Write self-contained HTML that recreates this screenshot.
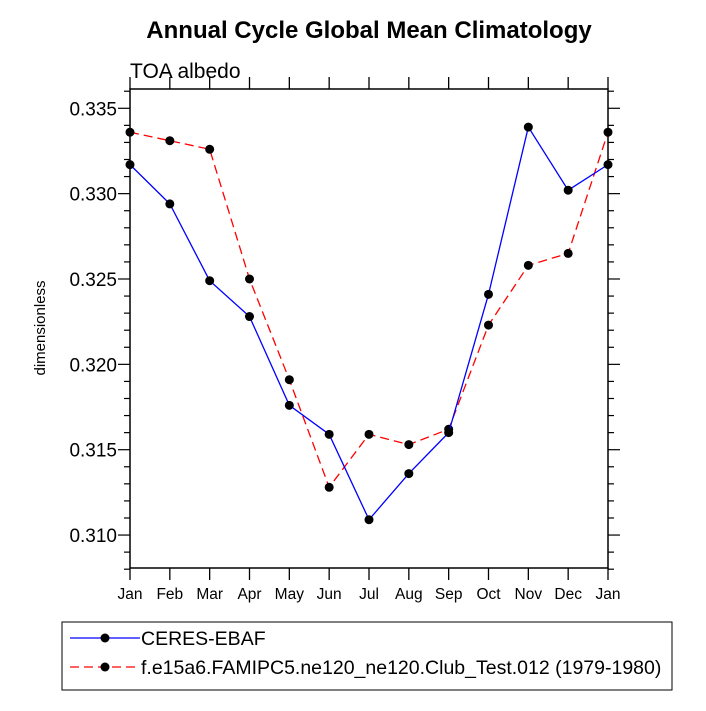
<!DOCTYPE html>
<html><head><meta charset="utf-8"><style>body{margin:0;background:#fff}svg text{font-family:"Liberation Sans",Arial,sans-serif}</style></head>
<body>
<svg id="c" width="706" height="706" xmlns="http://www.w3.org/2000/svg">
<text x="369" y="38" font-size="24" font-weight="bold" text-anchor="middle">Annual Cycle Global Mean Climatology</text>
<text x="130" y="78" font-size="21">TOA albedo</text>
<text transform="translate(45,328) rotate(-90)" font-size="15" text-anchor="middle">dimensionless</text>
<g id="axes"></g><g id="series"></g>
<rect x="62" y="622" width="610" height="68" fill="none" stroke="#000" stroke-width="1"/>
<g>
<line x1="70" y1="638" x2="140" y2="638" stroke="#00f" stroke-width="1.3"/><circle cx="105" cy="638" r="4.5"/>
<text x="141" y="645" font-size="19.5">CERES-EBAF</text></g>
<g>
<line x1="70" y1="667" x2="140" y2="667" stroke="#f00" stroke-width="1.3" stroke-dasharray="9,5"/><circle cx="105" cy="667" r="4.5"/>
<text x="141" y="674" font-size="19.5">f.e15a6.FAMIPC5.ne120_ne120.Club_Test.012 (1979-1980)</text></g>
</svg>
<script>
const months=["Jan","Feb","Mar","Apr","May","Jun","Jul","Aug","Sep","Oct","Nov","Dec","Jan"];
const ceres=[0.3317,0.3294,0.3249,0.3228,0.3176,0.3159,0.3109,0.3136,0.3160,0.3241,0.3339,0.3302,0.3317];
const model=[0.3336,0.3331,0.3326,0.3250,0.3191,0.3128,0.3159,0.3153,0.3162,0.3223,0.3258,0.3265,0.3336];
const yTicks=[0.310,0.315,0.320,0.325,0.330,0.335];
const L=130,R=608,T=89,B=568,ymin=0.30807,ymax=0.33613;
const xs=i=>L+i*(R-L)/(months.length-1);
const ys=v=>B-(v-ymin)/(ymax-ymin)*(B-T);
const NS="http://www.w3.org/2000/svg";
function mk(tag,at,par){const e=document.createElementNS(NS,tag);for(const k in at)e.setAttribute(k,at[k]);par.appendChild(e);return e;}
const ax=document.getElementById('axes'),sg=document.getElementById('series');
const fr=mk('rect',{x:L,y:T,width:R-L,height:B-T,fill:'none',stroke:'#000','stroke-width':1.5},ax);


months.forEach((m,i)=>{const x=xs(i);
mk('line',{x1:x,y1:B,x2:x,y2:B+12,stroke:'#000','stroke-width':1.3},ax);
mk('line',{x1:x,y1:T,x2:x,y2:T-12,stroke:'#000','stroke-width':1.3},ax);
const t=mk('text',{x:x,y:B+31,'font-size':15.5,'text-anchor':'middle'},ax);t.textContent=m;

});
for(let v=0.308;v<=0.3361;v+=0.001){const y=ys(v);const major=yTicks.some(t=>Math.abs(t-v)<1e-6);const len=major?12:6;
mk('line',{x1:L,y1:y,x2:L-len,y2:y,stroke:'#000','stroke-width':1.2},ax);
mk('line',{x1:R,y1:y,x2:R+len,y2:y,stroke:'#000','stroke-width':1.2},ax);}
yTicks.forEach(v=>{const t=mk('text',{x:L-13,y:ys(v)+7,'font-size':19,'text-anchor':'end'},ax);t.textContent=v.toFixed(3);

});
function draw(arr,col,dash,name){const g=mk('g',{},sg);


mk('polyline',{points:arr.map((v,i)=>xs(i)+','+ys(v)).join(' '),fill:'none',stroke:col,'stroke-width':1.3,'stroke-dasharray':dash},g);
arr.forEach((v,i)=>{const c=mk('circle',{cx:xs(i),cy:ys(v),r:4.5,fill:'#000'},g);

});}
draw(model,'#f00','9,5','model-series');
draw(ceres,'#00f','none','ceres-series');
</script>
</body></html>
